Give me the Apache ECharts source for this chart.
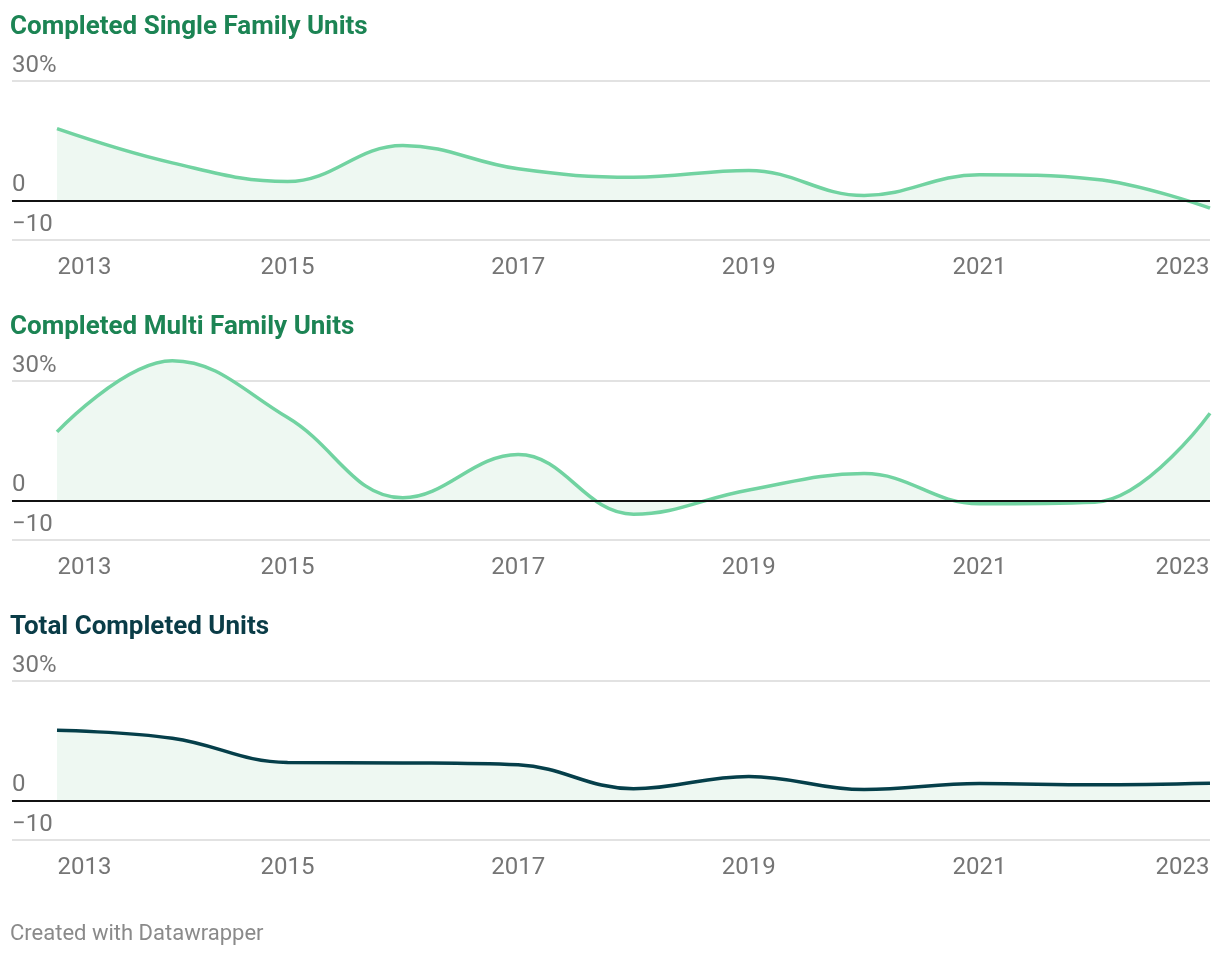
<!DOCTYPE html>
<html>
<head>
<meta charset="utf-8">
<script src="https://cdn.jsdelivr.net/npm/echarts@6/dist/echarts.min.js"></script>
<style>
  html, body { margin: 0; padding: 0; background: #fff; }
  #chart { width: 1220px; height: 956px; }
</style>
</head>
<body>
<div id="chart"></div>
<script>
// ---- Data ----
const years = [2013, 2014, 2015, 2016, 2017, 2018, 2019, 2020, 2021, 2022, 2023];
const singleFamily = [18.0, 9.4, 4.7, 13.8, 7.9, 5.8, 7.5, 1.2, 6.4, 5.3, -2.0];
const multiFamily = [17.2, 35.1, 20.8, 0.6, 11.5, -3.5, 2.6, 6.7, -0.9, -0.5, 21.9];
const totalUnits = [17.6, 15.6, 9.5, 9.4, 8.9, 2.9, 6.0, 2.7, 4.2, 3.9, 4.3];
const xTickLabels = [2013, 2015, 2017, 2019, 2021, 2023];
const yTickValues = [-10, 0, 30];
const panelTitles = ['Completed Single Family Units', 'Completed Multi Family Units', 'Total Completed Units'];
const footerText = 'Created with Datawrapper';

// ---- Styles ----
const FONT = 'Roboto';
const GREEN_LINE = '#71d3a1';
const DARK_LINE = '#053f4a';
const FILL = '#eef8f2';
const TITLE_GREEN = '#1c8454';
const TITLE_DARK = '#0a3c47';
const LABEL = '#757575';
const GRID = '#e2e2e2';

const panels = [
  { title: panelTitles[0], values: singleFamily, line: GREEN_LINE, titleColor: TITLE_GREEN },
  { title: panelTitles[1], values: multiFamily, line: GREEN_LINE, titleColor: TITLE_GREEN },
  { title: panelTitles[2], values: totalUnits, line: DARK_LINE, titleColor: TITLE_DARK }
];

const PANEL_STEP = 300;
const GRID_TOP = 81;
const GRID_H = 159;
const GRID_LEFT = 12;
const GRID_RIGHT = 10;
const DATA_LEFT = 57;
const chartW = 1220;
const dataW = chartW - DATA_LEFT - GRID_RIGHT;
const span = years[years.length - 1] - years[0];
const xMin = years[0] - span * (DATA_LEFT - GRID_LEFT) / dataW;
const xMax = years[years.length - 1];

const option = {
  animation: false,
  backgroundColor: '#ffffff',
  textStyle: { fontFamily: FONT },
  title: panels.map((p, i) => ({
    text: p.title,
    left: 10,
    top: 14 + i * PANEL_STEP,
    padding: 0,
    textStyle: { fontFamily: FONT, fontSize: 26, fontWeight: 'bold', color: p.titleColor }
  })).concat([{
    text: footerText,
    left: 10,
    top: 923,
    padding: 0,
    textStyle: { fontFamily: FONT, fontSize: 22, fontWeight: 'normal', color: '#8a8a8a' }
  }]),
  grid: panels.map((p, i) => ({
    left: GRID_LEFT,
    right: GRID_RIGHT,
    top: GRID_TOP + i * PANEL_STEP,
    height: GRID_H,
    containLabel: false
  })),
  xAxis: panels.map((p, i) => ({
    type: 'value',
    gridIndex: i,
    min: xMin,
    max: xMax,
    axisLine: { show: false },
    axisTick: { show: false },
    splitLine: { show: false },
    axisLabel: {
      customValues: xTickLabels,
      margin: 16,
      fontFamily: FONT,
      fontSize: 24,
      color: LABEL,
      formatter: function (v) {
        const y = Math.round(v);
        if (y === xTickLabels[0]) return '{l|' + y + '}';
        if (y === xTickLabels[xTickLabels.length - 1]) return '{r|' + y + '}';
        return String(y);
      },
      rich: {
        l: { fontFamily: FONT, fontSize: 24, color: LABEL, padding: [0, 0, 0, 55] },
        r: { fontFamily: FONT, fontSize: 24, color: LABEL, padding: [0, 55, 0, 0] }
      }
    }
  })),
  yAxis: panels.map((p, i) => ({
    type: 'value',
    gridIndex: i,
    min: -10,
    max: 30,
    interval: 10,
    axisLine: { show: false },
    axisTick: { show: false },
    splitLine: {
      show: true,
      lineStyle: { width: 2, color: [GRID, 'transparent', 'transparent', 'transparent', GRID] }
    },
    axisLabel: {
      inside: true,
      margin: 0,
      verticalAlign: 'bottom',
      padding: [0, 0, 3, 0],
      fontFamily: FONT,
      fontSize: 24,
      color: LABEL,
      formatter: function (v) {
        if (v === 30) return '30%';
        if (v === 0) return '0';
        if (v === -10) return '\u221210';
        return '';
      }
    }
  })),
  series: panels.map((p, i) => ({
    type: 'line',
    xAxisIndex: i,
    yAxisIndex: i,
    data: years.map((y, k) => [y, p.values[k]]),
    smooth: 0.4,
    clip: false,
    symbol: 'none',
    lineStyle: { color: p.line, width: 3.5 },
    areaStyle: { color: FILL, opacity: 1 },
    z: 3,
    markLine: {
      silent: true,
      symbol: 'none',
      label: { show: false },
      lineStyle: { color: '#111111', width: 2, type: 'solid' },
      data: [{ yAxis: 0 }],
      z: 4
    }
  }))
};

const chart = echarts.init(document.getElementById('chart'), null, { renderer: 'canvas' });
chart.setOption(option);
</script>
</body>
</html>
